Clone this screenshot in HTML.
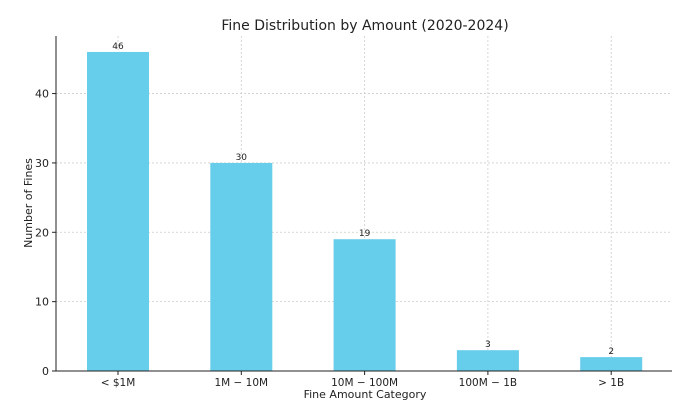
<!DOCTYPE html>
<html><head><meta charset="utf-8"><style>
body{margin:0;background:#fff;font-family:"Liberation Sans","DejaVu Sans",sans-serif}
svg text{font-family:"DejaVu Sans","Liberation Sans",sans-serif}
</style></head><body>
<svg width="700" height="405" viewBox="0 0 700 405">
<text x="365" y="30" font-size="14" text-anchor="middle" fill="#222">Fine Distribution by Amount (2020-2024)</text>
<g id="grid"></g><g id="bars"></g><g id="axes"></g>
<text x="365" y="398" font-size="11" text-anchor="middle" fill="#222">Fine Amount Category</text>
<text transform="translate(32,203) rotate(-90)" font-size="11" text-anchor="middle" fill="#222">Number of Fines</text>
</svg>
<script>
const categories=["< $1M","1M − 10M","10M − 100M","100M − 1B","> 1B"];
const values=[46,30,19,3,2];
const yTicks=[0,10,20,30,40];
const NS="http://www.w3.org/2000/svg";
const x0=56,x1=672,yb=371,yt=36;
const yMax=48.3;
function ys(v){return yb-(yb-yt)*v/yMax;}
const step=123.3,first=118;
function xs(i){return first+i*step;}
function mk(t,a,p){const e=document.createElementNS(NS,t);for(const k in a)e.setAttribute(k,a[k]);p.appendChild(e);return e;}
const grid=document.getElementById('grid'),bars=document.getElementById('bars'),axes=document.getElementById('axes');
yTicks.forEach(t=>{
 const y=ys(t);
 if(t>0){const g=mk('line',{x1:x0,x2:x1,y1:y,y2:y,stroke:'#ccc','stroke-dasharray':'2,2','stroke-width':0.8},grid);
 
 }
 const l=mk('line',{x1:x0-4,x2:x0,y1:y,y2:y,stroke:'#222'},axes);
 
 
 const tx=mk('text',{x:x0-7,y:y+4,'font-size':11,'text-anchor':'end',fill:'#222'},axes);tx.textContent=t;
 
 
});
categories.forEach((c,i)=>{
 const cx=xs(i);
 const g=mk('line',{x1:cx,x2:cx,y1:yt,y2:yb,stroke:'#ccc','stroke-dasharray':'2,2','stroke-width':0.8},grid);
 
 
 const r=mk('rect',{x:cx-31,width:62,y:ys(values[i]),height:yb-ys(values[i]),fill:'#66cdea'},bars);
 
 
 const v=mk('text',{x:cx,y:ys(values[i])-3,'font-size':9,'text-anchor':'middle',fill:'#222'},bars);v.textContent=values[i];
 
 
 const tk=mk('line',{x1:cx,x2:cx,y1:yb,y2:yb+4,stroke:'#222'},axes);
 
 
 const t=mk('text',{x:cx,y:yb+15,'font-size':10.5,'text-anchor':'middle',fill:'#222'},axes);t.textContent=c;
 
 
});
const ax=mk('line',{x1:x0,x2:x0,y1:yt,y2:yb,stroke:'#222'},axes);


const bx=mk('line',{x1:x0,x2:x1,y1:yb,y2:yb,stroke:'#222'},axes);


</script>
</body></html>
